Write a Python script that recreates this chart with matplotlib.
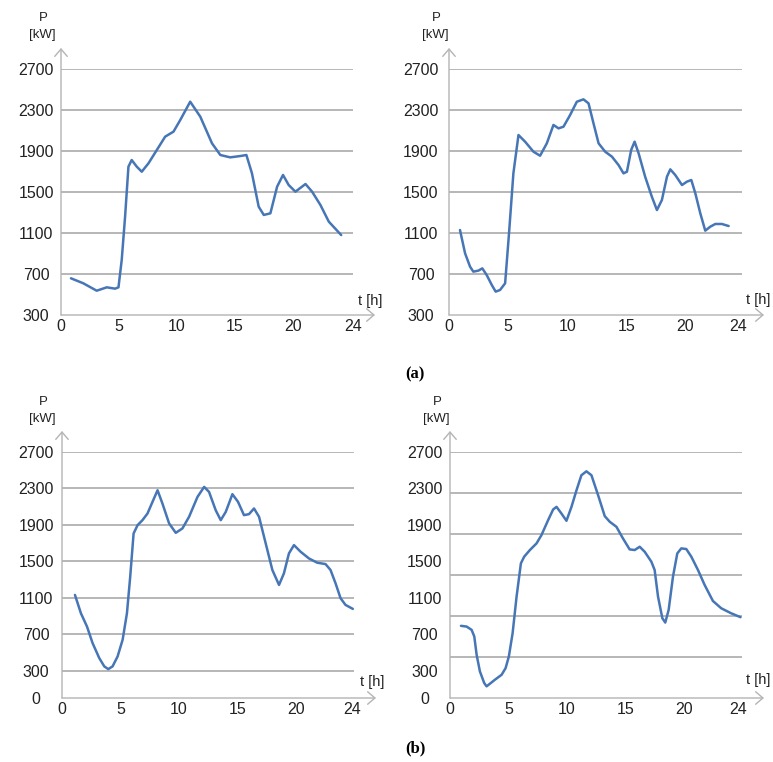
import matplotlib
matplotlib.use("Agg")
import matplotlib.pyplot as plt

plt.rcParams['font.family'] = ['Liberation Sans', 'DejaVu Sans']

# (a) left
t_a1 = [0.86, 1.93, 3.08, 3.95, 4.67, 4.96, 5.24, 5.53, 5.82, 6.1, 6.54, 6.97, 7.55, 8.27,
        8.99, 9.71, 10.29, 11.15, 12.02, 13.03, 13.75, 14.6, 15.48, 16.0, 16.48, 17.06,
        17.5, 18.07, 18.65, 19.16, 19.65, 20.23, 21.1, 21.67, 22.39, 23.11, 24.18]
p_a1 = [658, 609, 537, 570, 557, 570, 837, 1259, 1747, 1812, 1747, 1698, 1780, 1910,
        2040, 2089, 2202, 2381, 2235, 1975, 1861, 1838, 1851, 1861, 1682, 1357,
        1276, 1292, 1552, 1666, 1568, 1503, 1578, 1503, 1373, 1211, 1080]

# (a) right
t_a2 = [0.93, 1.36, 1.78, 2.06, 2.49, 2.82, 3.19, 3.62, 3.95, 4.32, 4.75, 5.08, 5.45, 5.88,
        6.44, 7.15, 7.71, 8.28, 8.84, 9.27, 9.69, 10.25, 10.82, 11.38, 11.81, 12.23,
        12.66, 13.22, 13.79, 14.35, 14.77, 15.06, 15.42, 15.71, 16.05, 16.6, 17.17,
        17.6, 18.02, 18.45, 18.73, 19.15, 19.72, 20.14, 20.51, 20.85, 21.27, 21.69,
        22.12, 22.54, 23.1, 23.67]
p_a2 = [1129, 902, 772, 723, 733, 755, 690, 593, 528, 544, 609, 1097, 1682, 2056,
        1991, 1893, 1854, 1975, 2154, 2121, 2137, 2251, 2381, 2404, 2365, 2170,
        1975, 1893, 1845, 1763, 1682, 1698, 1910, 1991, 1877, 1650, 1454,
        1324, 1422, 1650, 1721, 1666, 1568, 1601, 1617, 1487, 1292, 1123,
        1162, 1188, 1188, 1168]

# (b) left
t_b1 = [1.11, 1.62, 2.14, 2.62, 3.19, 3.62, 3.96, 4.33, 4.76, 5.19, 5.56, 5.84, 6.13, 6.47,
        6.89, 7.32, 7.75, 8.18, 8.6, 9.17, 9.74, 10.31, 10.88, 11.6, 12.17, 12.59,
        13.16, 13.59, 14.02, 14.59, 15.07, 15.58, 16.01, 16.44, 16.87, 17.44, 18.01,
        18.58, 19.0, 19.43, 19.86, 20.43, 21.14, 21.85, 22.56, 22.99, 23.42, 23.85,
        24.27, 24.9]
p_b1 = [1131, 930, 784, 602, 438, 347, 317, 347, 456, 639, 930, 1332, 1806, 1897,
        1952, 2025, 2153, 2280, 2134, 1916, 1813, 1861, 1989, 2207, 2317, 2262,
        2061, 1952, 2043, 2237, 2153, 2007, 2018, 2080, 1989, 1697, 1405,
        1241, 1368, 1587, 1678, 1605, 1532, 1485, 1470, 1405, 1259, 1095,
        1022, 978]

# (b) right
t_b2 = [0.94, 1.42, 1.85, 2.08, 2.28, 2.56, 2.93, 3.13, 3.42, 3.85, 4.42, 4.76, 5.04, 5.36,
        5.7, 6.07, 6.35, 6.84, 7.41, 7.83, 8.4, 8.83, 9.12, 9.54, 9.97, 10.4, 10.83,
        11.25, 11.68, 12.11, 12.68, 13.25, 13.68, 14.25, 14.81, 15.38, 15.81, 16.24,
        16.67, 17.24, 17.52, 17.81, 18.18, 18.43, 18.72, 19.09, 19.46, 19.8, 20.23,
        20.66, 21.23, 21.8, 22.51, 23.22, 24.07, 24.87]
p_b2 = [792, 784, 748, 675, 474, 292, 164, 128, 157, 201, 255, 328, 456, 711,
        1113, 1478, 1551, 1624, 1697, 1788, 1952, 2069, 2098, 2025, 1945, 2098, 2280,
        2445, 2488, 2445, 2226, 1996, 1934, 1879, 1751, 1631, 1624, 1660,
        1605, 1496, 1405, 1113, 876, 828, 967, 1332, 1587, 1642, 1635,
        1551, 1405, 1241, 1065, 985, 930, 887]

x_labels = ['0', '5', '10', '15', '20', '24']
y_labels_a = [300, 700, 1100, 1500, 1900, 2300, 2700]
y_labels_b = [0, 300, 700, 1100, 1500, 1900, 2300, 2700]
grid_a = [700, 1100, 1500, 1900, 2300, 2700]
grid_b1 = [300, 700, 1100, 1500, 1900, 2300, 2700]
grid_b2 = [450, 900, 1350, 1800, 2250, 2700]

W, H = 773, 762
fig = plt.figure(figsize=(W / 100, H / 100), dpi=100)

line_c = '#4676b6'
grid_c = '#a3a3a3'
axis_c = '#b4b4b4'
txt_c = '#222222'


def px_axes(left, right, top, bottom):
    return fig.add_axes([left / W, 1 - bottom / H, (right - left) / W, (bottom - top) / H])


def panel(box, t, p, xmax, x24, ylo, yticks, grid, ypad, plab, tlab):
    ax = px_axes(*box)
    ax.set_xlim(0, xmax)
    ax.set_ylim(ylo, 2700)
    for s in ax.spines.values():
        s.set_visible(False)
    for g in grid:
        ax.axhline(g, color=grid_c, lw=1.1, zorder=1)
    ax.plot(t, p, color=line_c, lw=1.8, zorder=3, solid_capstyle='round',
            solid_joinstyle='round')
    ax.set_xticks([0, 5, 10, 15, 20, x24], x_labels)
    ax.set_yticks(yticks, [str(v) for v in yticks])
    ax.tick_params(length=0, labelsize=11.5, colors=txt_c)
    ax.tick_params(axis='x', pad=3)
    ax.tick_params(axis='y', pad=ypad * 0.72)
    for lab in ax.get_yticklabels():
        lab.set_horizontalalignment('center')
    # axes with open arrow heads
    ax.annotate('', xy=(0, 1 + 21 / (box[3] - box[2])), xytext=(0, 0),
                xycoords='axes fraction', textcoords='axes fraction',
                arrowprops=dict(arrowstyle='->, head_length=0.35, head_width=0.3',
                                color=axis_c, lw=1.0, mutation_scale=15,
                                shrinkA=0, shrinkB=0), annotation_clip=False)
    ax.annotate('', xy=(1 + 22 / (box[1] - box[0]), 0), xytext=(0, 0),
                xycoords='axes fraction', textcoords='axes fraction',
                arrowprops=dict(arrowstyle='->, head_length=0.35, head_width=0.3',
                                color=axis_c, lw=1.0, mutation_scale=15,
                                shrinkA=0, shrinkB=0), annotation_clip=False)
    fig.text(plab[0] / W, 1 - plab[1] / H, 'P', fontsize=9.5, color=txt_c,
             ha='center', va='center')
    fig.text(plab[0] / W - 1 / W, 1 - (plab[1] + 17) / H, '[kW]', fontsize=9.5,
             color=txt_c, ha='center', va='center')
    fig.text(tlab[0] / W, 1 - tlab[1] / H, 't [h]', fontsize=10.5, color=txt_c,
             ha='center', va='center')
    return ax


panel((61, 353, 69, 315), t_a1, p_a1, 25.2, 25.2, 300, y_labels_a, grid_a, 25,
      (43, 18), (370, 301))
panel((449, 742, 69, 315), t_a2, p_a2, 24.8, 24.5, 300, y_labels_a, grid_a, 28,
      (436, 18), (758, 300))
panel((62, 354, 452, 698), t_b1, p_b1, 25.0, 24.8, 0, y_labels_b, grid_b1, 26,
      (43, 402), (372, 682))
panel((450, 742, 452, 698), t_b2, p_b2, 25.0, 24.7, 0, y_labels_b, grid_b2, 25.5,
      (437, 402), (758, 680))

fig.text(415 / W, 1 - 374 / H, '(a)', fontsize=12, fontweight='bold',
         family='Liberation Serif', color='black', ha='center', va='center')
fig.text(415 / W, 1 - 748 / H, '(b)', fontsize=12, fontweight='bold',
         family='Liberation Serif', color='black', ha='center', va='center')

fig.savefig('out.png', dpi=100)
